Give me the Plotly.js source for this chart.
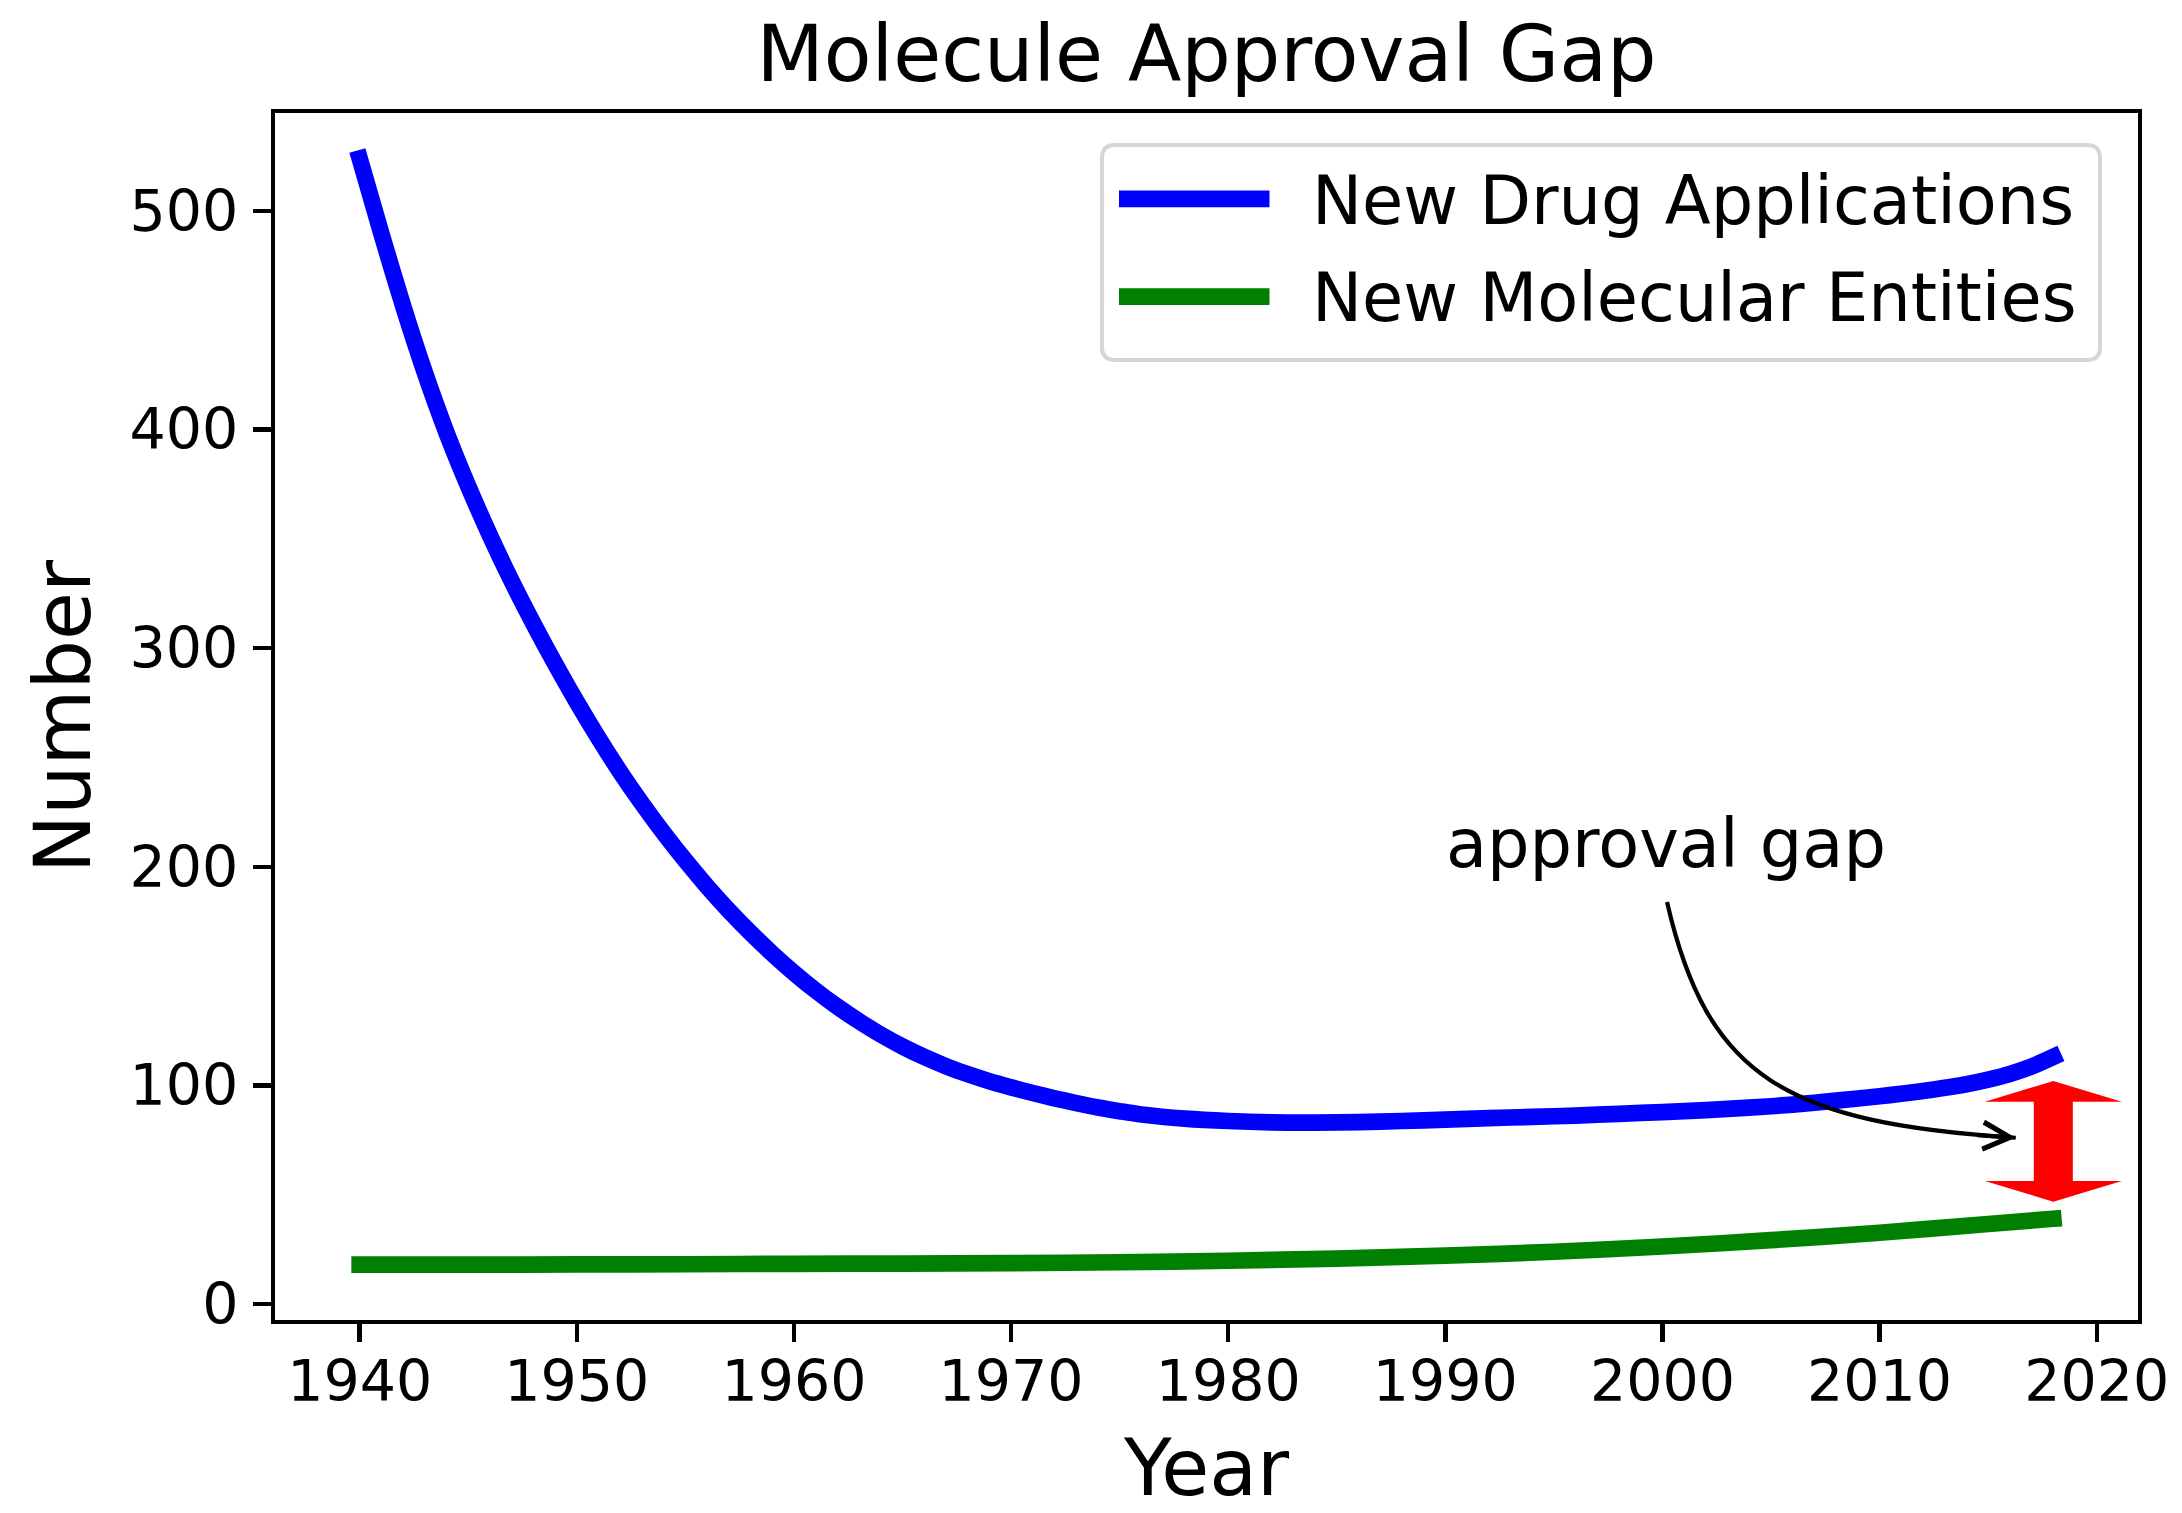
<!DOCTYPE html>
<html>
<head>
<meta charset="utf-8">
<script src="https://cdn.plot.ly/plotly-3.0.1.min.js"></script>
<style>
  html, body { margin: 0; padding: 0; background: #ffffff; }
  #chart { width: 2182px; height: 1513px; }
  .scatterlayer .js-line { stroke-linecap: square; }
</style>
</head>
<body>
<div id="chart"></div>
<script>
// ---- data ----
const yearsNDA = [1940,1941,1942,1943,1944,1945,1946,1947,1948,1949,
                  1950,1951,1952,1953,1954,1955,1956,1957,1958,1959,
                  1960,1961,1962,1963,1964,1965,1966,1967,1968,1969,
                  1970,1971,1972,1973,1974,1975,
                  1976,1978,1980,1982,1984,1986,1988,1990,1992,1994,
                  1996,1998,2000,2002,2004,2006,2008,2010,2012,2013,2014,2015,2016,2017,2018];
const newDrugApplications = [523.9,489.5,456.5,426.0,398.5,374.0,351.5,330.6,311.2,292.8,
                  275.3,258.8,243.3,228.9,215.4,202.8,191.0,180.0,169.8,160.3,
                  151.5,143.4,136.0,129.3,123.2,117.8,113.0,108.8,105.1,101.9,
                  99.1,96.5,94.1,91.9,89.9,88.2,
                  86.7,84.8,83.7,83.1,83.0,83.2,83.7,84.3,85.0,85.6,
                  86.2,87.0,87.8,88.7,89.8,91.2,93.0,95.0,97.4,98.9,100.5,102.6,105.2,108.6,113.0];

const yearsNME = [1940,1945,1950,1955,1960,1965,1970,1975,1980,1985,1990,1995,2000,2005,2010,2015,2018];
const newMolecularEntities = [18.0,18.0,18.1,18.2,18.4,18.5,18.7,19.1,19.8,20.8,22.1,23.9,26.3,29.2,32.6,36.6,39.0];

const seriesNames = ['New Drug Applications', 'New Molecular Entities'];
const xTickVals = [1940,1950,1960,1970,1980,1990,2000,2010,2020];
const xTickText = ['1940','1950','1960','1970','1980','1990','2000','2010','2020'];
const yTickVals = [0,100,200,300,400,500];
const yTickText = ['0','100','200','300','400','500'];

// annotation: double arrow marking the gap (x, [low tip, high tip])
const gapX = 2018;
const gapY = [46.8, 102.0];
// annotation: text anchor and curved pointer (start, control1, control2, tip)
const gapLabel = 'approval gap';
const gapLabelPos = [1990, 200];
const pointerX = [2000.21, 2002.06, 2005.69, 2016.27];
const pointerY = [183.84, 103.58, 82.77, 76.05];

// ---- layout geometry ----
const W = 2182, H = 1513;
const M = {l: 275, r: 44, t: 113, b: 193};
const plotW = W - M.l - M.r, plotH = H - M.t - M.b;
const xRange = [1936.1, 2021.9];
const yRange = [-7.3, 544.7];
const pxPerY = plotH / (yRange[1] - yRange[0]);
const px2paperX = px => (px - M.l) / plotW;
const px2paperY = py => (H - M.b - py) / plotH;
const FONT = 'DejaVu Sans';
const LW = 16.7;
const colors = ['#0000ff', '#008000'];

const traces = [
  {x: yearsNDA, y: newDrugApplications, type: 'scatter', mode: 'lines', name: seriesNames[0],
   line: {color: colors[0], width: LW, shape: 'spline', smoothing: 0.8}, showlegend: false, hoverinfo: 'skip'},
  {x: yearsNME, y: newMolecularEntities, type: 'scatter', mode: 'lines', name: seriesNames[1],
   line: {color: colors[1], width: LW, shape: 'spline', smoothing: 0.8}, showlegend: false, hoverinfo: 'skip'}
];

// red double arrow
const headLen = 20.7 / pxPerY;
const lo = gapY[0], hi = gapY[1], hb = hi - headLen, lb = lo + headLen;
const sw = 19.5, hw = 68.5;
const redPath = `M${-sw},${lb} L${-sw},${hb} L${-hw},${hb} L0,${hi} L${hw},${hb} L${sw},${hb} ` +
                `L${sw},${lb} L${hw},${lb} L0,${lo} L${-hw},${lb} Z`;

// curved pointer
const ptrPath = `M${pointerX[0]},${pointerY[0]} C${pointerX[1]},${pointerY[1]} ${pointerX[2]},${pointerY[2]} ${pointerX[3]},${pointerY[3]}`;

// legend frame (rounded)
const lx0 = px2paperX(1102), lx1 = px2paperX(2100), ly1 = px2paperY(145), ly0 = px2paperY(360);
const rx = 13 / plotW, ry = 13 / plotH;
const legPath = `M${lx0+rx},${ly1} L${lx1-rx},${ly1} Q${lx1},${ly1} ${lx1},${ly1-ry} L${lx1},${ly0+ry} ` +
                `Q${lx1},${ly0} ${lx1-rx},${ly0} L${lx0+rx},${ly0} Q${lx0},${ly0} ${lx0},${ly0+ry} ` +
                `L${lx0},${ly1-ry} Q${lx0},${ly1} ${lx0+rx},${ly1} Z`;
const legRowsPx = [198.8, 296.7];
const legTextPx = [200.8, 297.5];
const legLineX = [px2paperX(1119), px2paperX(1269.5)];
const legTextX = px2paperX(1311);

const shapes = [
  {type: 'path', xref: 'x', yref: 'y', xsizemode: 'pixel', xanchor: gapX, path: redPath,
   fillcolor: '#ff0000', line: {width: 0}, layer: 'above'},
  {type: 'path', xref: 'x', yref: 'y', path: ptrPath, fillcolor: 'rgba(0,0,0,0)',
   line: {color: '#000000', width: 4.2}, layer: 'above'},
  {type: 'path', xref: 'paper', yref: 'paper', path: legPath, fillcolor: '#ffffff',
   line: {color: '#d6d6d6', width: 4}, layer: 'above'}
];
legRowsPx.forEach((py, i) => {
  shapes.push({type: 'line', xref: 'paper', yref: 'paper', x0: legLineX[0], x1: legLineX[1],
    y0: px2paperY(py), y1: px2paperY(py), line: {color: colors[i], width: LW}, layer: 'above'});
});

const annotations = [
  {x: gapLabelPos[0], y: gapLabelPos[1], xref: 'x', yref: 'y', text: gapLabel, showarrow: false,
   xanchor: 'left', yanchor: 'middle', yshift: 23.2, borderpad: 0,
   font: {family: FONT, size: 67, color: '#000000'}},
  {x: pointerX[3], y: pointerY[3], xref: 'x', yref: 'y', text: '', showarrow: true,
   ax: -40, ay: -2.6, axref: 'pixel', ayref: 'pixel',
   arrowhead: 5, arrowsize: 1.26, arrowwidth: 4.2, arrowcolor: '#000000', standoff: 0}
];
seriesNames.forEach((nm, i) => {
  annotations.push({x: legTextX, y: px2paperY(legTextPx[i]), xref: 'paper', yref: 'paper', text: nm,
    showarrow: false, xanchor: 'left', yanchor: 'middle', borderpad: 0,
    font: {family: FONT, size: 67, color: '#000000'}});
});

const axisCommon = {
  showline: true, linecolor: '#000000', linewidth: 4.2, mirror: true,
  ticks: 'outside', ticklen: 18, tickwidth: 4.4, tickcolor: '#000000',
  showgrid: false, zeroline: false, automargin: false,
  tickfont: {family: FONT, size: 57, color: '#000000'}
};

const layout = {
  width: W, height: H,
  margin: {l: M.l, r: M.r, t: M.t, b: M.b, pad: 0},
  paper_bgcolor: '#ffffff', plot_bgcolor: '#ffffff',
  font: {family: FONT, color: '#000000'},
  showlegend: false,
  title: {text: 'Molecule Approval Gap', font: {family: FONT, size: 78, color: '#000000'},
          x: 0.5, xref: 'paper', xanchor: 'center', y: 1 - 54.1 / H, yref: 'container', yanchor: 'middle'},
  xaxis: Object.assign({}, axisCommon, {
    range: xRange, tickmode: 'array', tickvals: xTickVals, ticktext: xTickText, ticklabelstandoff: -10,
    title: {text: 'Year', font: {family: FONT, size: 78, color: '#000000'}, standoff: 39}
  }),
  yaxis: Object.assign({}, axisCommon, {
    range: yRange, tickmode: 'array', tickvals: yTickVals, ticktext: yTickText, ticklabelstandoff: 3,
    title: {text: 'Number', font: {family: FONT, size: 78, color: '#000000'}, standoff: 14}
  }),
  shapes: shapes,
  annotations: annotations
};

Plotly.newPlot('chart', traces, layout, {displayModeBar: false, staticPlot: true});
</script>
</body>
</html>
